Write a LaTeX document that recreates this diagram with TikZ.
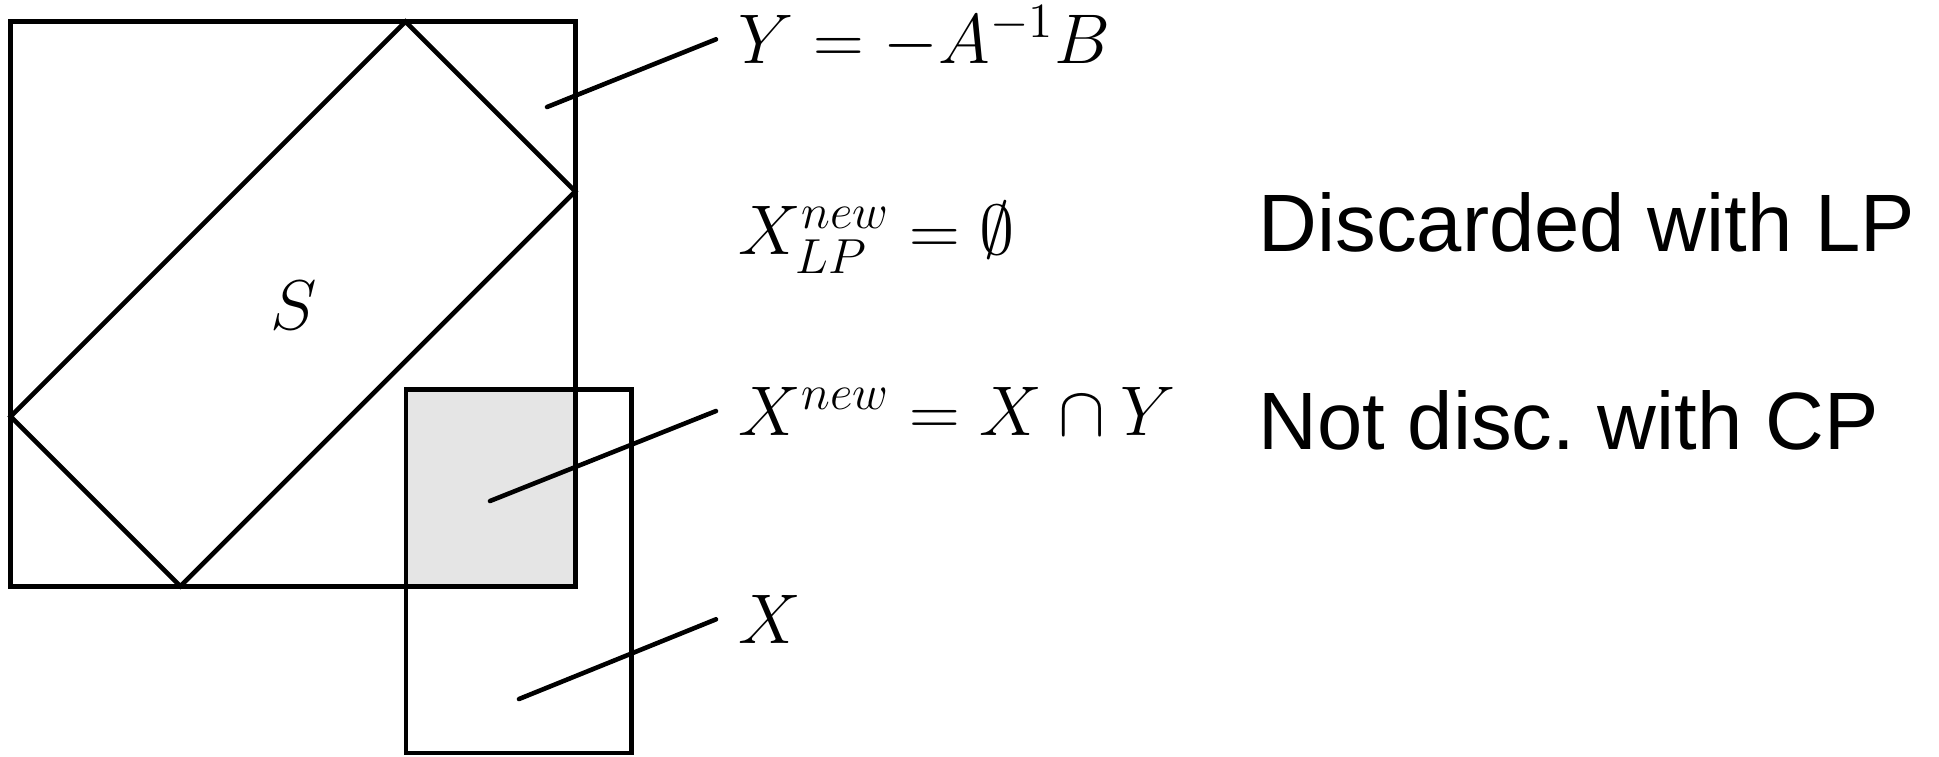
\RequirePackage{fix-cm}
\documentclass[tikz,border=0pt]{standalone}
\usepackage{fontspec}
\setsansfont{Liberation Sans}
\usepackage{amsmath,amssymb}
\usetikzlibrary{positioning,calc}
\definecolor{Shade}{HTML}{E5E5E5}
\tikzset{
  region/.style={draw=black,line width=1.3pt},
  leader/.style={draw=black,line width=1.3pt,line cap=round},
  mathlabel/.style={anchor=base west,inner sep=0pt,font=\fontsize{20}{24}\selectfont},
  note/.style={anchor=base west,inner sep=0pt,font=\sffamily\fontsize{23.15}{28}\selectfont}
}

\begin{document}
\begin{tikzpicture}[x=0.01cm,y=-0.01cm]
  \useasboundingbox (0,0) rectangle (1939,756);
  % corners of Y and X
  \coordinate (ytl) at (10.7,21.7);
  \coordinate (ybr) at (575.4,586.3);
  \coordinate (xtl) at (406,389.6);
  \coordinate (xbr) at (631.7,753.1);
  \fill[Shade] (xtl) rectangle (ybr);
  \draw[region] (ytl) rectangle (ybr);
  \draw[region] (405.5,21.7) -- (575.2,191.4) -- (180.4,586.2) -- (10.7,416.5) -- cycle;
  \draw[region] (xtl) rectangle (xbr);
  \node[font=\fontsize{20}{24}\selectfont] (slab) at (294,305) {$S$};
  % labels
  \node[mathlabel] (ylab) at (738,63.3) {$Y = -A^{-1}B$};
  \node[mathlabel] (lplab) at (738,254) {$X^{new}_{LP} = \emptyset$};
  \node[mathlabel] (xnlab) at (738,435) {$X^{new} = X \cap Y$};
  \node[mathlabel] (xlab) at (738,643.3) {$X$};
  \node[note] (lpnote) at (1258,251.7) {Discarded with LP};
  \node[note] (cpnote) at (1258,449.3) {Not disc.\ with CP};
  % leaders
  \coordinate (ypt) at (547,107);
  \coordinate (xnpt) at (490,501);
  \coordinate (xpt) at (519,699);
  \draw[leader] (ypt) -- ([shift={(-22,-24)}]ylab.base west);
  \draw[leader] (xnpt) -- ([shift={(-22,-24)}]xnlab.base west);
  \draw[leader] (xpt) -- ([shift={(-22,-24)}]xlab.base west);
\end{tikzpicture}
\end{document}
